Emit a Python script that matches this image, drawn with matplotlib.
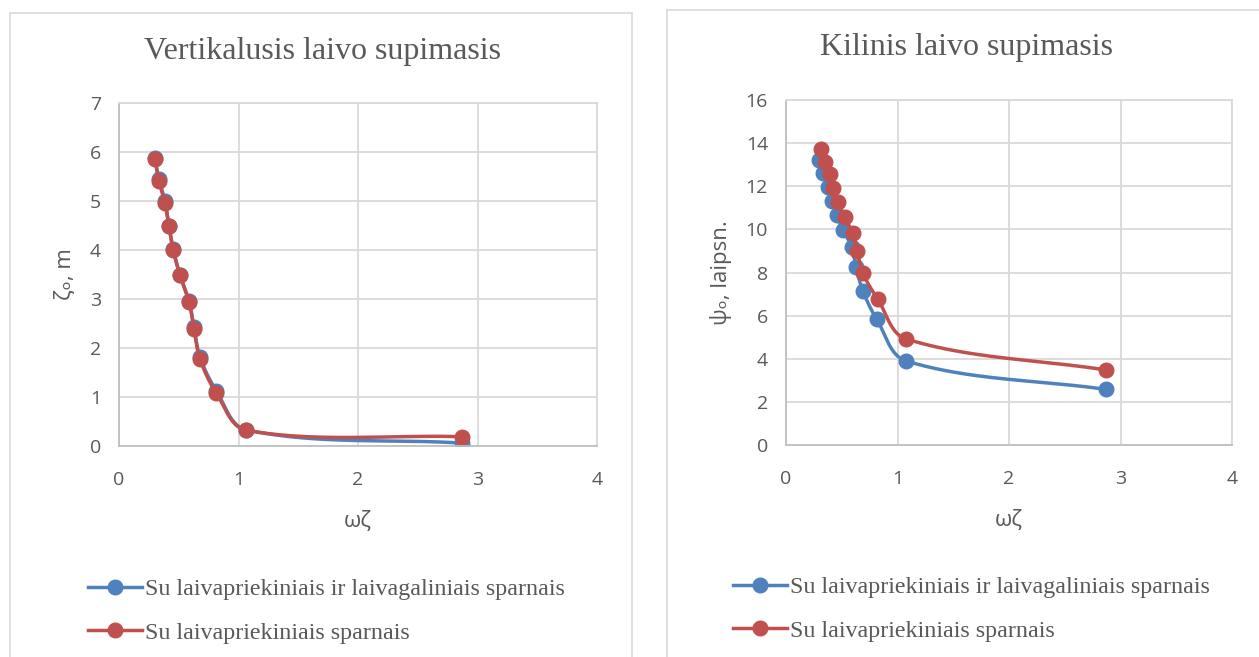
import matplotlib
matplotlib.use("Agg")
import matplotlib.pyplot as plt
import numpy as np
from matplotlib.patches import Rectangle

# Data
omega_left_blue = [0.30, 0.335, 0.385, 0.418, 0.454, 0.51, 0.586, 0.628, 0.678, 0.814, 1.065, 2.87]
zeta_blue = [5.88, 5.44, 5.00, 4.50, 4.02, 3.50, 2.96, 2.42, 1.81, 1.13, 0.33, 0.06]
omega_left_red = [0.30, 0.335, 0.385, 0.418, 0.454, 0.51, 0.586, 0.628, 0.678, 0.814, 1.065, 2.87]
zeta_red = [5.85, 5.40, 4.95, 4.48, 3.99, 3.48, 2.94, 2.38, 1.77, 1.08, 0.32, 0.19]

omega_right_blue = [0.299, 0.329, 0.38, 0.413, 0.454, 0.514, 0.589, 0.628, 0.688, 0.813, 1.076, 2.87]
psi_blue = [13.22, 12.60, 11.98, 11.33, 10.67, 9.97, 9.17, 8.27, 7.16, 5.84, 3.90, 2.58]
omega_right_red = [0.311, 0.35, 0.395, 0.424, 0.469, 0.526, 0.598, 0.64, 0.688, 0.822, 1.076, 2.87]
psi_red = [13.71, 13.11, 12.55, 11.93, 11.28, 10.56, 9.85, 9.01, 7.99, 6.77, 4.92, 3.48]

labels = ["Su laivapriekiniais ir laivagaliniais sparnais", "Su laivapriekiniais sparnais"]
BLUE = "#4f81bd"
RED = "#c0504d"
TEXT = "#595959"
GRID = "#d9d9d9"
SANS = ["Open Sans", "DejaVu Sans"]


def unit(v):
    return v / np.linalg.norm(v)


def smooth(ax, x, y, n=40):
    # bezier through the points, tangents scaled by segment length (screen space)
    p = ax.transData.transform(np.column_stack([x, y]))
    m = len(p)
    tang = [unit(p[1] - p[0])]
    for i in range(1, m - 1):
        tang.append(unit(p[i + 1] - p[i - 1]))
    tang.append(unit(p[-1] - p[-2]))
    t = np.linspace(0, 1, n)[:, None]
    out = []
    for i in range(m - 1):
        L = np.linalg.norm(p[i + 1] - p[i]) / 3
        c1 = p[i] + tang[i] * L
        c2 = p[i + 1] - tang[i + 1] * L
        out.append((1 - t) ** 3 * p[i] + 3 * (1 - t) ** 2 * t * c1 + 3 * (1 - t) * t ** 2 * c2 + t ** 3 * p[i + 1])
    out = ax.transData.inverted().transform(np.vstack(out))
    return out[:, 0], out[:, 1]


fig = plt.figure(figsize=(12.59, 6.57), dpi=100)
W, H = 1259, 657

# chart frames
fig.patches.append(Rectangle((10 / W, -0.1), 622 / W, 1.1 - 13 / H, transform=fig.transFigure,
                             fill=False, edgecolor=GRID, linewidth=1.2))
fig.patches.append(Rectangle((667 / W, -0.1), 0.5, 1.1 - 10 / H, transform=fig.transFigure,
                             fill=False, edgecolor=GRID, linewidth=1.2))


def setup(ax, ymax, ystep, ylabel):
    ax.set_xlim(0, 4)
    ax.set_ylim(0, ymax)
    ax.set_xticks(range(0, 5))
    ax.set_yticks(np.arange(0, ymax + 0.1, ystep))
    ax.grid(True, color=GRID, linewidth=1.3)
    ax.set_axisbelow(True)
    for s in ax.spines.values():
        s.set_color(GRID)
        s.set_linewidth(1.3)
    ax.spines["left"].set_color("#bfbfbf")
    ax.spines["bottom"].set_color("#bfbfbf")
    ax.tick_params(length=0, labelsize=14, labelcolor=TEXT)
    ax.tick_params(axis="x", pad=18)
    ax.tick_params(axis="y", pad=13)
    for lab in ax.get_xticklabels() + ax.get_yticklabels():
        lab.set_family(SANS)
    ax.set_xlabel("ωζ", fontsize=16, color=TEXT, family=SANS, labelpad=16)
    ax.set_ylabel(ylabel, fontsize=16, color=TEXT, family=SANS, labelpad=10)


def draw(ax, xs, ys, color, label):
    sx, sy = smooth(ax, xs, ys)
    ax.plot(sx, sy, color=color, linewidth=2.5, solid_capstyle="round")
    ax.plot(xs, ys, linestyle="none", marker="o", markersize=10.5, color=color)
    return ax.plot([], [], color=color, linewidth=2.5, marker="o", markersize=10.5, label=label)[0]


ax1 = fig.add_axes([119 / W, 1 - 446 / H, 478 / W, 343 / H])
setup(ax1, 7, 1, "ζₒ, m")
ax2 = fig.add_axes([786 / W, 1 - 445 / H, 446 / W, 345 / H])
setup(ax2, 16, 2, "ψₒ, laipsn.")

h1 = draw(ax1, omega_left_blue, zeta_blue, BLUE, labels[0])
h2 = draw(ax1, omega_left_red, zeta_red, RED, labels[1])
g1 = draw(ax2, omega_right_blue, psi_blue, BLUE, labels[0])
g2 = draw(ax2, omega_right_red, psi_red, RED, labels[1])

fig.text(322 / W, 1 - 52 / H, "Vertikalusis laivo supimasis", ha="center", va="center",
         fontsize=23, color=TEXT, family="Liberation Serif")
fig.text(967 / W, 1 - 48 / H, "Kilinis laivo supimasis", ha="center", va="center",
         fontsize=23, color=TEXT, family="Liberation Serif")

leg_kw = dict(frameon=False, labelcolor=TEXT, handlelength=2.25, handletextpad=0.15,
              labelspacing=0.9, prop={"family": "Liberation Serif", "size": 17.3})
fig.legend([h1, h2], labels, loc="upper left", bbox_to_anchor=(66 / W, 1 - 557 / H), **leg_kw)
fig.legend([g1, g2], labels, loc="upper left", bbox_to_anchor=(711 / W, 1 - 555 / H), **leg_kw)

fig.savefig("out.png", dpi=100)
